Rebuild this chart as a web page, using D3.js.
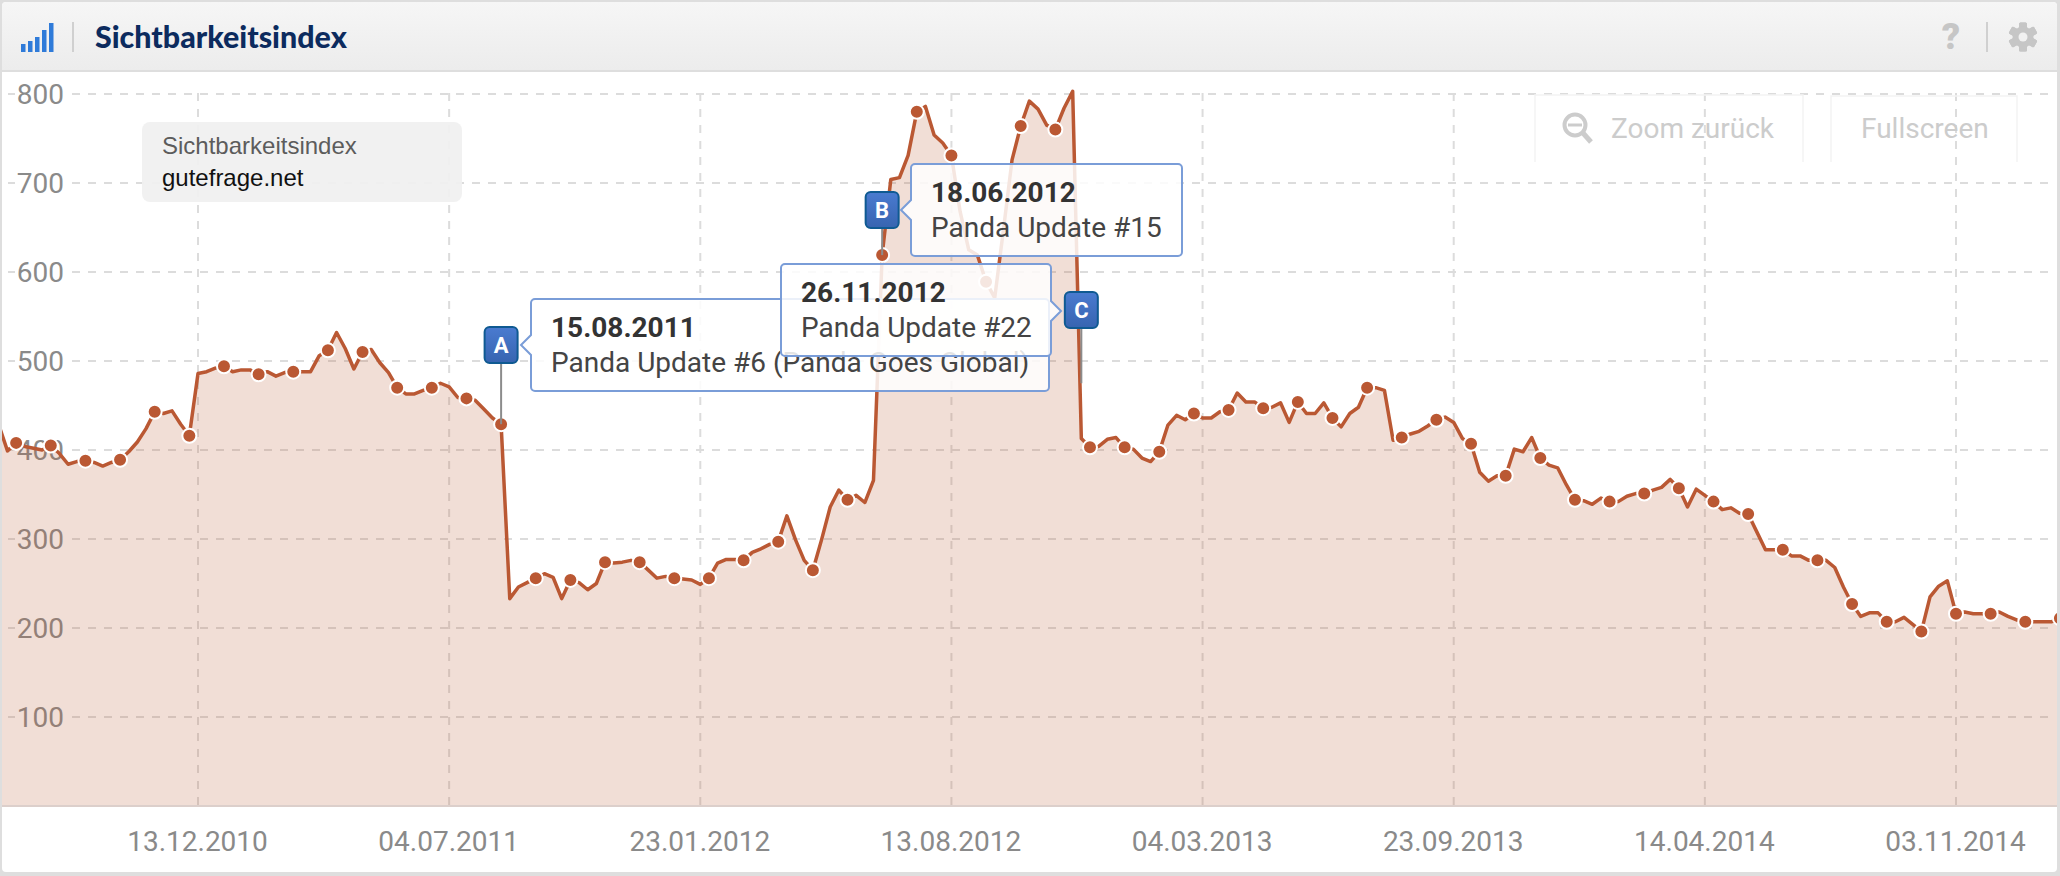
<!DOCTYPE html>
<html>
<head>
<meta charset="utf-8">
<script src="https://cdn.jsdelivr.net/npm/d3@7"></script>
<style>
    html, body { margin: 0; padding: 0; background: #fff; }
    svg { display: block; font-family: Roboto, sans-serif; }
</style>
</head>
<body>
<script>
// weekly index values, first one is 05.07.2010
const firstDate = "05.07.2010";
const values = [
    428, 399, 408, 404, 402, 400, 405, 396, 384, 387, 388, 386, 382, 386, 389, 398, 409, 424, 443, 441, 444, 429, 416,
    486, 488, 492, 494, 488, 490, 490, 485, 488, 483, 487, 488, 488, 488, 506, 512, 532, 514, 491, 510, 513, 498, 487,
    470, 463, 463, 467, 470, 475, 471, 459, 458, 456, 446, 436, 429, 233, 246, 251, 256, 261, 257, 233, 254, 251, 243,
    250, 274, 273, 274, 276, 274, 265, 256, 258, 256, 255, 254, 249, 256, 273, 277, 277, 276, 285, 289, 294, 297, 326,
    299, 276, 265, 299, 336, 355, 344, 349, 341, 366, 619, 704, 706, 731, 780, 786, 754, 745, 731, 668, 625, 619, 589,
    571, 647, 726, 764, 792, 783, 765, 760, 784, 803, 413, 403, 404, 412, 414, 403, 401, 391, 387, 398, 428, 439, 434,
    441, 436, 436, 443, 445, 464, 454, 454, 447, 448, 453, 431, 454, 441, 441, 453, 436, 426, 441, 448, 470, 470, 467,
    411, 414, 418, 421, 427, 434, 437, 431, 413, 407, 375, 365, 371, 371, 401, 398, 414, 391, 383, 380, 361, 344, 343,
    339, 346, 342, 342, 348, 351, 351, 355, 358, 367, 357, 336, 356, 349, 342, 333, 335, 329, 328, 308, 288, 288, 288,
    281, 281, 276, 276, 276, 268, 246, 227, 213, 217, 217, 207, 207, 212, 204, 196, 235, 247, 253, 216, 218, 216, 216,
    216, 218, 213, 209, 207, 207, 207, 207, 211
];

const yTicks = [100, 200, 300, 400, 500, 600, 700, 800];
const xTicks = ["13.12.2010", "04.07.2011", "23.01.2012", "13.08.2012", "04.03.2013", "23.09.2013", "14.04.2014", "03.11.2014"];

const flagDates = ["15.08.2011", "18.06.2012", "26.11.2012"];
const flagLetters = ["A", "B", "C"];
const flagTitles = ["Panda Update #6 (Panda Goes Global)", "Panda Update #15", "Panda Update #22"];
const flagStemEnds = [429, 619, 475];

const legendTitle = "Sichtbarkeitsindex";
const legendDomain = "gutefrage.net";

const width = 2060, height = 876;
const plotTop = 72, plotBottom = 806, plotLeft = 2, plotRight = 2057;
const lineColor = "#ba5833";

const parseDate = d3.utcParse("%d.%m.%Y");
const formatDate = d3.utcFormat("%d.%m.%Y");

const start = parseDate(firstDate);
const data = values.map((v, i) => ({ date: d3.utcMonday.offset(start, i), value: v, index: i }));
const tickDates = xTicks.map(parseDate);

const xScale = d3.scaleUtc()
    .domain([tickDates[0], tickDates[tickDates.length - 1]])
    .range([198, 1956]);

const yScale = d3.scaleLinear()
    .domain([0, 800])
    .range([plotBottom, 94]);

const svg = d3.select("body").append("svg")
    .attr("width", width)
    .attr("height", height)
    .attr("viewBox", `0 0 ${width} ${height}`);

const defs = svg.append("defs");

const headGrad = defs.append("linearGradient").attr("id", "headGrad").attr("x1", 0).attr("x2", 0).attr("y1", 0).attr("y2", 1);
headGrad.append("stop").attr("offset", "0%").attr("stop-color", "#f6f6f6");
headGrad.append("stop").attr("offset", "100%").attr("stop-color", "#ececec");

const flagGrad = defs.append("linearGradient").attr("id", "flagGrad").attr("x1", 0).attr("x2", 0).attr("y1", 0).attr("y2", 1);
flagGrad.append("stop").attr("offset", "0%").attr("stop-color", "#4a7bd0");
flagGrad.append("stop").attr("offset", "100%").attr("stop-color", "#3764b0");

defs.append("clipPath").attr("id", "plotClip").append("rect")
    .attr("x", plotLeft).attr("y", plotTop)
    .attr("width", plotRight - plotLeft).attr("height", plotBottom - plotTop);

// Panel frame
svg.append("rect").attr("width", width).attr("height", height).attr("fill", "#dedede");
svg.append("rect").attr("x", plotLeft).attr("y", 2).attr("width", plotRight - plotLeft).attr("height", 870).attr("rx", 4).attr("fill", "#fff");
svg.append("path")
    .attr("d", `M${plotLeft},70V6a4,4 0 0 1 4,-4H${plotRight - 4}a4,4 0 0 1 4,4V70Z`)
    .attr("fill", "url(#headGrad)");
svg.append("rect").attr("x", plotLeft).attr("y", 70).attr("width", plotRight - plotLeft).attr("height", 2).attr("fill", "#dedede");

// Header icon
const barTops = [44, 41, 37, 30, 23];
svg.append("g").selectAll("rect").data(barTops).join("rect")
    .attr("x", (d, i) => 21 + i * 7)
    .attr("y", d => d)
    .attr("width", 4.5)
    .attr("height", d => 52 - d)
    .attr("fill", "#2f7bd9");

svg.append("rect").attr("x", 72).attr("y", 22).attr("width", 2).attr("height", 30).attr("fill", "#d0d0d0");
svg.append("rect").attr("x", 1986).attr("y", 22).attr("width", 2).attr("height", 30).attr("fill", "#d0d0d0");

svg.append("text")
    .attr("x", 95).attr("y", 48)
    .attr("font-family", "Lato, sans-serif")
    .attr("font-weight", 900)
    .attr("font-size", 30.4)
    .attr("fill", "#0c2b5e")
    .text("Sichtbarkeitsindex");

svg.append("text")
    .attr("x", 1951).attr("y", 49)
    .attr("text-anchor", "middle")
    .attr("font-weight", 900)
    .attr("font-size", 36)
    .attr("fill", "#c6c6c6")
    .text("?");

// Gear
const gear = svg.append("g").attr("transform", "translate(2023,37)");
d3.range(6).forEach(i => {
    gear.append("rect")
        .attr("x", -4).attr("y", -14.5)
        .attr("width", 8).attr("height", 29)
        .attr("rx", 1.5)
        .attr("fill", "#c6c6c6")
        .attr("transform", `rotate(${i * 60})`);
});
gear.append("circle").attr("r", 10.5).attr("fill", "#c6c6c6");
gear.append("circle").attr("r", 4.5).attr("fill", "#f1f1f1");

// Grid
const grid = svg.append("g").attr("stroke", "#dcdcdc").attr("stroke-width", 2).attr("stroke-dasharray", "8 8");
grid.selectAll(".gridY").data(yTicks).join("line")
    .attr("class", "gridY")
    .attr("x1", 72).attr("x2", 2048)
    .attr("y1", d => yScale(d)).attr("y2", d => yScale(d));
grid.selectAll(".gridY2").data(yTicks).join("line")
    .attr("class", "gridY2")
    .attr("x1", 8).attr("x2", 15)
    .attr("y1", d => yScale(d)).attr("y2", d => yScale(d));
grid.selectAll(".gridX").data(tickDates).join("line")
    .attr("class", "gridX")
    .attr("x1", d => xScale(d)).attr("x2", d => xScale(d))
    .attr("y1", 93).attr("y2", plotBottom);

// Axes
const yAxis = svg.append("g")
    .attr("transform", "translate(64,0)")
    .call(d3.axisLeft(yScale).tickValues(yTicks).tickSize(0).tickPadding(0));
yAxis.select(".domain").remove();
yAxis.selectAll("text")
    .attr("font-family", "Roboto, sans-serif")
    .attr("font-size", 28)
    .attr("fill", "#8a8a8a")
    .attr("dy", 9);

const xAxis = svg.append("g")
    .attr("transform", `translate(-1,${plotBottom})`)
    .call(d3.axisBottom(xScale).tickValues(tickDates).tickFormat(formatDate).tickSize(0).tickPadding(0));
xAxis.select(".domain").remove();
xAxis.selectAll("text")
    .attr("font-family", "Roboto, sans-serif")
    .attr("font-size", 28)
    .attr("fill", "#8a8a8a")
    .attr("y", 45)
    .attr("dy", 0);

// Zoom buttons
const buttons = svg.append("g").attr("fill", "none").attr("stroke", "#f3f3f3").attr("stroke-width", 1.5);
buttons.append("path").attr("d", "M1535,162V95H1803V162");
buttons.append("path").attr("d", "M1831,162V96H2017V162");

svg.append("text").attr("x", 1611).attr("y", 138).attr("font-size", 28).attr("fill", "#cccccc").text("Zoom zurück");
svg.append("text").attr("x", 1861).attr("y", 138).attr("font-size", 28).attr("fill", "#cccccc").text("Fullscreen");

const lens = svg.append("g").attr("fill", "none").attr("stroke", "#cccccc");
lens.append("circle").attr("cx", 1575).attr("cy", 125).attr("r", 10.5).attr("stroke-width", 4);
lens.append("path").attr("d", "M1568,125H1582").attr("stroke-width", 3);
lens.append("path").attr("d", "M1583,133L1591,142").attr("stroke-width", 5);

// Series
const chart = svg.append("g").attr("clip-path", "url(#plotClip)");

const area = d3.area()
    .x(d => xScale(d.date))
    .y0(plotBottom)
    .y1(d => yScale(d.value));

const line = d3.line()
    .x(d => xScale(d.date))
    .y(d => yScale(d.value));

chart.append("path")
    .datum(data)
    .attr("fill", lineColor)
    .attr("fill-opacity", 0.2)
    .attr("d", area);

chart.append("path")
    .datum(data)
    .attr("fill", "none")
    .attr("stroke", lineColor)
    .attr("stroke-width", 3.5)
    .attr("stroke-linejoin", "round")
    .attr("d", line);

// every fourth week has a marker
chart.selectAll("circle")
    .data(data.filter(d => d.index % 4 === 2))
    .join("circle")
    .attr("cx", d => xScale(d.date))
    .attr("cy", d => yScale(d.value))
    .attr("r", 7)
    .attr("fill", lineColor)
    .attr("stroke", "#fff")
    .attr("stroke-width", 2);

svg.append("line")
    .attr("x1", plotLeft).attr("x2", plotRight)
    .attr("y1", plotBottom).attr("y2", plotBottom)
    .attr("stroke", "#dccfcb").attr("stroke-width", 2);

// Legend box
const legend = svg.append("g");
legend.append("rect")
    .attr("x", 142).attr("y", 122)
    .attr("width", 320).attr("height", 80)
    .attr("rx", 8)
    .attr("fill", "#f0f0f0")
    .attr("fill-opacity", 0.92);
legend.append("text")
    .attr("x", 162).attr("y", 154)
    .attr("font-family", "'Liberation Sans', Arial, sans-serif")
    .attr("font-size", 24)
    .attr("fill", "#5c5c5c")
    .text(legendTitle);
legend.append("text")
    .attr("x", 162).attr("y", 186)
    .attr("font-family", "'Liberation Sans', Arial, sans-serif")
    .attr("font-size", 24)
    .attr("fill", "#111")
    .text(legendDomain);

// Flags and their callouts, in the order they stack
const callouts = [
    { box: [531, 299, 518, 92], tip: "left", tipY: 345, flagY: 327 },
    { box: [911, 164, 271, 92], tip: "left", tipY: 210, flagY: 192 },
    { box: [781, 264, 270, 92], tip: "right", tipY: 311, flagY: 292 }
];

function calloutPath([x, y, w, h], tip, tipY) {
    const r = 4, t = 10, s = 10;
    let p = `M${x + r},${y}H${x + w - r}a${r},${r} 0 0 1 ${r},${r}`;
    if (tip === "right") p += `V${tipY - s}l${t},${s}l${-t},${s}`;
    p += `V${y + h - r}a${r},${r} 0 0 1 ${-r},${r}H${x + r}a${r},${r} 0 0 1 ${-r},${-r}`;
    if (tip === "left") p += `V${tipY + s}l${-t},${-s}l${t},${-s}`;
    p += `V${y + r}a${r},${r} 0 0 1 ${r},${-r}Z`;
    return p;
}

callouts.forEach((c, i) => {
    const date = parseDate(flagDates[i]);
    const fx = xScale(date);
    const g = svg.append("g");

    g.append("line")
        .attr("x1", fx).attr("x2", fx)
        .attr("y1", c.flagY + 36).attr("y2", yScale(flagStemEnds[i]))
        .attr("stroke", "#8c8c8c").attr("stroke-width", 2);

    g.append("path")
        .attr("d", calloutPath(c.box, c.tip, c.tipY))
        .attr("fill", "#fff")
        .attr("fill-opacity", 0.85)
        .attr("stroke", "#7a9dd8")
        .attr("stroke-width", 2);

    g.append("text")
        .attr("x", c.box[0] + 20).attr("y", c.box[1] + 38)
        .attr("font-weight", 700)
        .attr("font-size", 28)
        .attr("fill", "#333")
        .text(flagDates[i]);

    g.append("text")
        .attr("x", c.box[0] + 20).attr("y", c.box[1] + 73)
        .attr("font-size", 28)
        .attr("fill", "#444")
        .text(flagTitles[i]);

    g.append("rect")
        .attr("x", fx - 16.5).attr("y", c.flagY)
        .attr("width", 33).attr("height", 36)
        .attr("rx", 5)
        .attr("fill", "url(#flagGrad)")
        .attr("stroke", "#0f5a92")
        .attr("stroke-width", 2);

    g.append("text")
        .attr("x", fx).attr("y", c.flagY + 26)
        .attr("text-anchor", "middle")
        .attr("font-weight", 700)
        .attr("font-size", 22)
        .attr("fill", "#fff")
        .text(flagLetters[i]);
});
</script>
</body>
</html>
